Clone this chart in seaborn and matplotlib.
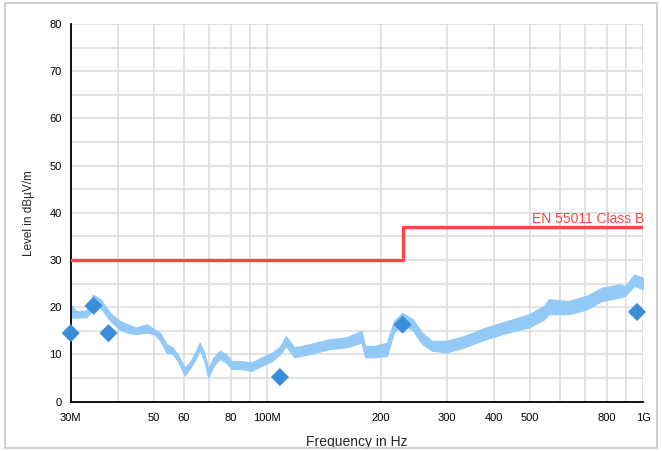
import numpy as np
import pandas as pd
import seaborn as sns
import matplotlib.pyplot as plt
from matplotlib.patches import Rectangle

trace_mhz = [30, 31, 33, 33.8, 34.3, 36, 38.2, 40.5, 42.5, 44.6, 47.8, 50, 51.9,
             53.9, 56, 58.1, 60.3, 62.5, 64.9, 66.1, 68, 69.6, 72, 74.7, 77.6,
             80.4, 84.9, 91, 96.7, 103, 108.4, 112, 118, 130, 146, 162, 178,
             182, 193, 208, 217, 229, 244, 258, 274, 300, 334, 381, 435, 496,
             544, 560, 632, 706, 774, 860, 894, 945, 1000]
trace_high = [20.6, 19.2, 19.3, 20.5, 22.7, 21.7, 18.8, 17.1, 16.4, 15.7, 16.4,
              15.3, 14.6, 12.2, 11.5, 9.7, 7.2, 8.6, 11.1, 12.5, 10.4, 6.9, 9.4,
              10.8, 10.1, 8.6, 8.6, 8.3, 9.4, 10.4, 11.8, 13.9, 11.5, 12.2, 13.2,
              13.6, 15.0, 11.8, 11.8, 12.5, 17.1, 18.8, 17.4, 14.6, 12.9, 12.9,
              13.9, 15.7, 17.1, 18.5, 20.3, 21.7, 21.3, 22.4, 24.1, 24.8, 24.5,
              26.9, 26.2]
trace_low = [17.8, 17.8, 17.9, 18.8, 20.8, 19.9, 17.1, 15.3, 14.6, 14.3, 14.6,
             14.3, 12.9, 10.4, 10.1, 8.3, 5.5, 7.2, 9.4, 11.1, 8.6, 5.1, 7.6,
             9.0, 8.3, 6.9, 6.9, 6.5, 7.6, 8.6, 10.1, 11.8, 9.4, 10.1, 11.1,
             11.5, 12.5, 9.4, 9.4, 9.7, 14.6, 16.4, 15.0, 12.2, 10.8, 10.4,
             11.5, 13.2, 14.6, 15.7, 17.4, 18.5, 18.5, 19.5, 21.3, 22.0, 22.4,
             24.5, 23.8]

# --- Final (QP) measurement points ---
peak_mhz = [30, 34.5, 37.8, 108, 229, 962]
peak_level = [14.5, 20.3, 14.5, 5.2, 16.3, 19.0]

# --- Limit line ---
limit_mhz = [30, 230, 230, 1000]
limit_level = [30, 30, 37, 37]
limit_name = "EN 55011 Class B"

grid_mhz = [30, 40, 50, 60, 70, 80, 90, 100, 200, 300, 400, 500, 600, 700,
            800, 900, 1000]
grid_labels = ["30M", "", "50", "60", "", "80", "", "100M", "200", "300",
               "400", "500", "", "", "800", "", "1G"]

sns.set_style("whitegrid")
plt.rcParams['font.family'] = ['Liberation Sans', 'DejaVu Sans']

fig = plt.figure(figsize=(6.62, 4.51), dpi=100)
ax = fig.add_axes([0.1068, 0.1095, 0.865, 0.8373])

hz = lambda v: np.array(v) * 1e6

ax.fill_between(hz(trace_mhz), trace_low, trace_high, color="#93c9f7",
                linewidth=0.8, edgecolor="#93c9f7", zorder=2)

limit_df = pd.DataFrame({"f": hz(limit_mhz), "level": limit_level})
ax.plot(limit_df["f"], limit_df["level"], color="#ff4545", linewidth=2.4, zorder=3)
ax.text(1.005e9, 37.3, limit_name, color="#ff4545", fontsize=10,
        ha="right", va="bottom", zorder=4)

peak_df = pd.DataFrame({"f": hz(peak_mhz), "level": peak_level})
sns.scatterplot(data=peak_df, x="f", y="level", ax=ax, marker="D", s=85,
                color="#3a8ed8", edgecolor="none", zorder=5, clip_on=False)

ax.set_xscale("log")
ax.set_xlim(30e6, 1e9)
ax.set_ylim(0, 80)
ax.set_xticks(hz(grid_mhz), labels=grid_labels)
ax.xaxis.set_minor_locator(plt.NullLocator())
ax.set_yticks(np.arange(0, 81, 5),
              labels=[str(v) if v % 10 == 0 else "" for v in range(0, 81, 5)])

ax.grid(True, color="#dedede", linewidth=1.2)
for s in ["top", "right"]:
    ax.spines[s].set_visible(False)
for s in ["left", "bottom"]:
    ax.spines[s].set_visible(True)
    ax.spines[s].set_color("black")
    ax.spines[s].set_linewidth(1.3)
ax.tick_params(axis="both", direction="inout", length=7, width=1.2,
               colors="black", labelsize=8, pad=3)
ax.tick_params(axis="x", pad=5)

ax.set_xlabel("Frequency in Hz", fontsize=10, labelpad=8)
ax.set_ylabel("Level in dBµV/m", fontsize=8.5, labelpad=10)

fig.patches.append(Rectangle((0.008, 0.006), 0.984, 0.988, transform=fig.transFigure,
                             fill=False, edgecolor="#c8c8c8", linewidth=1.2))

fig.savefig("out.png", dpi=100)
